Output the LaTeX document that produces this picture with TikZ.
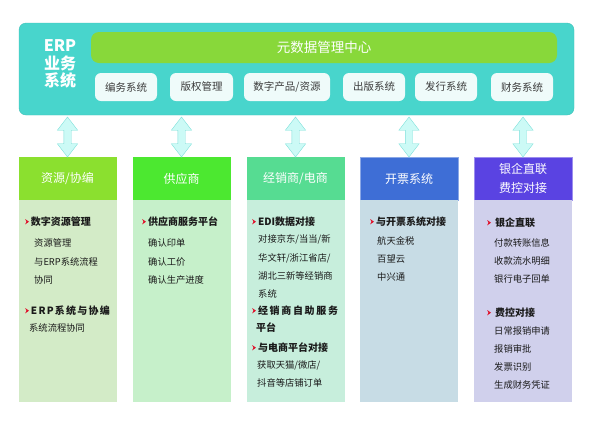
\documentclass[tikz,border=0pt]{standalone}
\usepackage{fontspec}
\setmainfont{Noto Sans CJK SC}
\usepackage{xcolor}
\usetikzlibrary{positioning}
\usetikzlibrary{shapes.arrows}

\definecolor{erpbg}{HTML}{48D5CC}
\definecolor{metabar}{HTML}{88D83A}
\definecolor{subbox}{HTML}{EFFBFA}
\definecolor{arrfill}{HTML}{CCFAF6}
\definecolor{arrline}{HTML}{7EE0DA}
\definecolor{hdA}{HTML}{8BE02F}
\definecolor{hdB}{HTML}{4CE830}
\definecolor{hdC}{HTML}{56DC92}
\definecolor{hdD}{HTML}{3E6ED6}
\definecolor{hdE}{HTML}{5A43E2}
\definecolor{bdA}{HTML}{D3EBC7}
\definecolor{bdB}{HTML}{C6F0CA}
\definecolor{bdC}{HTML}{C7EEDC}
\definecolor{bdD}{HTML}{C7DCE5}
\definecolor{bdE}{HTML}{D0D0EC}
\definecolor{ink}{HTML}{1A1A1A}
\definecolor{markred}{HTML}{E0102A}

\newcommand{\redmark}{\tikz[baseline=0pt]\fill[markred] (0pt,0.6pt) -- (3.8pt,3.3pt) -- (0pt,6pt) -- (1.2pt,3.3pt) -- cycle;\hspace{2pt}}
\newcommand{\hdfont}{\bfseries\fontsize{10}{12}\selectfont}
\newcommand{\itfont}{\fontsize{9.3}{11}\selectfont}

\begin{document}
\begin{tikzpicture}[x=1pt, y=-1pt,
    erpbox/.style={fill=erpbg, draw=erpbg!90!black, rounded corners=7pt, minimum width=555pt, minimum height=92pt},
    subsys/.style={fill=subbox, rounded corners=6pt, minimum height=28pt, text=ink!85, font=\fontsize{10.5}{12}\selectfont},
    updown/.style={double arrow, rotate=90, draw=arrline, fill=arrfill, minimum height=40pt, minimum width=20pt,
        double arrow head extend=6.5pt, double arrow tip angle=75, inner xsep=0pt, inner ysep=3.5pt},
    colhead/.style={minimum width=98pt, minimum height=43pt, text=white, align=center,
        font=\fontsize{12}{19}\selectfont},
    colbody/.style={minimum width=98pt, minimum height=202pt},
    hd/.style={anchor=base west, inner sep=0pt, text=ink, font=\hdfont},
    it/.style={anchor=base west, inner sep=0pt, text=ink, font=\itfont}]
    \useasboundingbox (0,0) rectangle (595,424);

    % ERP block
    \node[erpbox] (erp) at (296.5,69) {};
    \node[text=white, align=center, font=\bfseries\fontsize{16}{17.5}\selectfont] (erplbl) at (60,64) {ERP\\业务\\系统};
    \node[fill=metabar, rounded corners=8pt, minimum width=466pt, minimum height=31pt,
        text=white, font=\fontsize{13.5}{15}\selectfont] (meta) at (324,47.5) {元数据管理中心};
    \node[subsys, minimum width=62pt] (s1) at (126,87) {编务系统};
    \node[subsys, minimum width=63pt] (s2) at (201.5,87) {版权管理};
    \node[subsys, minimum width=86pt] (s3) at (287,87) {数字产品/资源};
    \node[subsys, minimum width=62pt] (s4) at (374,87) {出版系统};
    \node[subsys, minimum width=62pt] (s5) at (446,87) {发行系统};
    \node[subsys, minimum width=62pt] (s6) at (522,87) {财务系统};

    % Columns
    \node[colhead, fill=hdA] (h1) at (67.5,178.5) {资源/协编};
    \node[colhead, fill=hdB] (h2) at (181.5,178.5) {供应商};
    \node[colhead, fill=hdC] (h3) at (295.5,178.5) {经销商/电商};
    \node[colhead, fill=hdD, draw=hdD!60!white] (h4) at (409,178.5) {开票系统};
    \node[colhead, fill=hdE, draw=hdE!60!white] (h5) at (523,178.5) {银企直联\\费控对接};
    \node[colbody, fill=bdA] (b1) at (67.5,301) {};
    \node[colbody, fill=bdB] (b2) at (181.5,301) {};
    \node[colbody, fill=bdC] (b3) at (295.5,301) {};
    \node[colbody, fill=bdD] (b4) at (409,301) {};
    \node[colbody, fill=bdE] (b5) at (523,301) {};

    % Links
    \node[updown] (l1) at (67.5,137) {};
    \node[updown] (l2) at (181.5,137) {};
    \node[updown] (l3) at (295.5,137) {};
    \node[updown] (l4) at (409,137) {};
    \node[updown] (l5) at (523,137) {};

    % Column 1
    \node[hd] (c1h1) at (25,225) {\redmark 数字资源管理};
    \node[it] (c1i1) at (34,246.5) {资源管理};
    \node[it] (c1i2) at (34,265) {与ERP系统流程};
    \node[it] (c1i3) at (34,283.5) {协同};
    \node[hd] (c1h2) at (25,314) {\redmark\makebox[79pt][s]{E\hfil R\hfil P\hfil 系\hfil 统\hfil 与\hfil 协\hfil 编}};
    \node[it] (c1i4) at (29,331.5) {系统流程协同};

    % Column 2
    \node[hd] (c2h1) at (142,225) {\redmark 供应商服务平台};
    \node[it] (c2i1) at (148,246.5) {确认印单};
    \node[it] (c2i2) at (148,265) {确认工价};
    \node[it] (c2i3) at (148,283.5) {确认生产进度};

    % Column 3
    \node[hd] (c3h1) at (252,225) {\redmark EDI数据对接};
    \node[it] (c3i1) at (258,242.5) {对接京东/当当/新};
    \node[it] (c3i2) at (258,261.5) {华文轩/浙江省店/};
    \node[it] (c3i3) at (258,279.5) {湖北三新等经销商};
    \node[it] (c3i4) at (258,297.5) {系统};
    \node[hd] (c3h2) at (252,314) {\redmark\makebox[80pt][s]{经\hfil 销\hfil 商\hfil 自\hfil 助\hfil 服\hfil 务}};
    \node[hd] (c3h2b) at (256,331.5) {平台};
    \node[hd] (c3h3) at (252,351) {\redmark 与电商平台对接};
    \node[it] (c3i5) at (257,368.5) {获取天猫/微店/};
    \node[it] (c3i6) at (257,386.5) {抖音等店铺订单};

    % Column 4
    \node[hd] (c4h1) at (370,225) {\redmark 与开票系统对接};
    \node[it] (c4i1) at (377,244.5) {航天金税};
    \node[it] (c4i2) at (377,262.5) {百望云};
    \node[it] (c4i3) at (377,280.5) {中兴通};

    % Column 5
    \node[hd] (c5h1) at (487,226) {\redmark\hspace{2pt}银企直联};
    \node[it] (c5i1) at (494,246.5) {付款转账信息};
    \node[it] (c5i2) at (494,264.5) {收款流水明细};
    \node[it] (c5i3) at (494,282.5) {银行电子回单};
    \node[hd] (c5h2) at (487,316) {\redmark\hspace{2pt}费控对接};
    \node[it] (c5i4) at (494,334.5) {日常报销申请};
    \node[it] (c5i5) at (494,352.5) {报销审批};
    \node[it] (c5i6) at (494,370.5) {发票识别};
    \node[it] (c5i7) at (494,388.5) {生成财务凭证};
\end{tikzpicture}
\end{document}
